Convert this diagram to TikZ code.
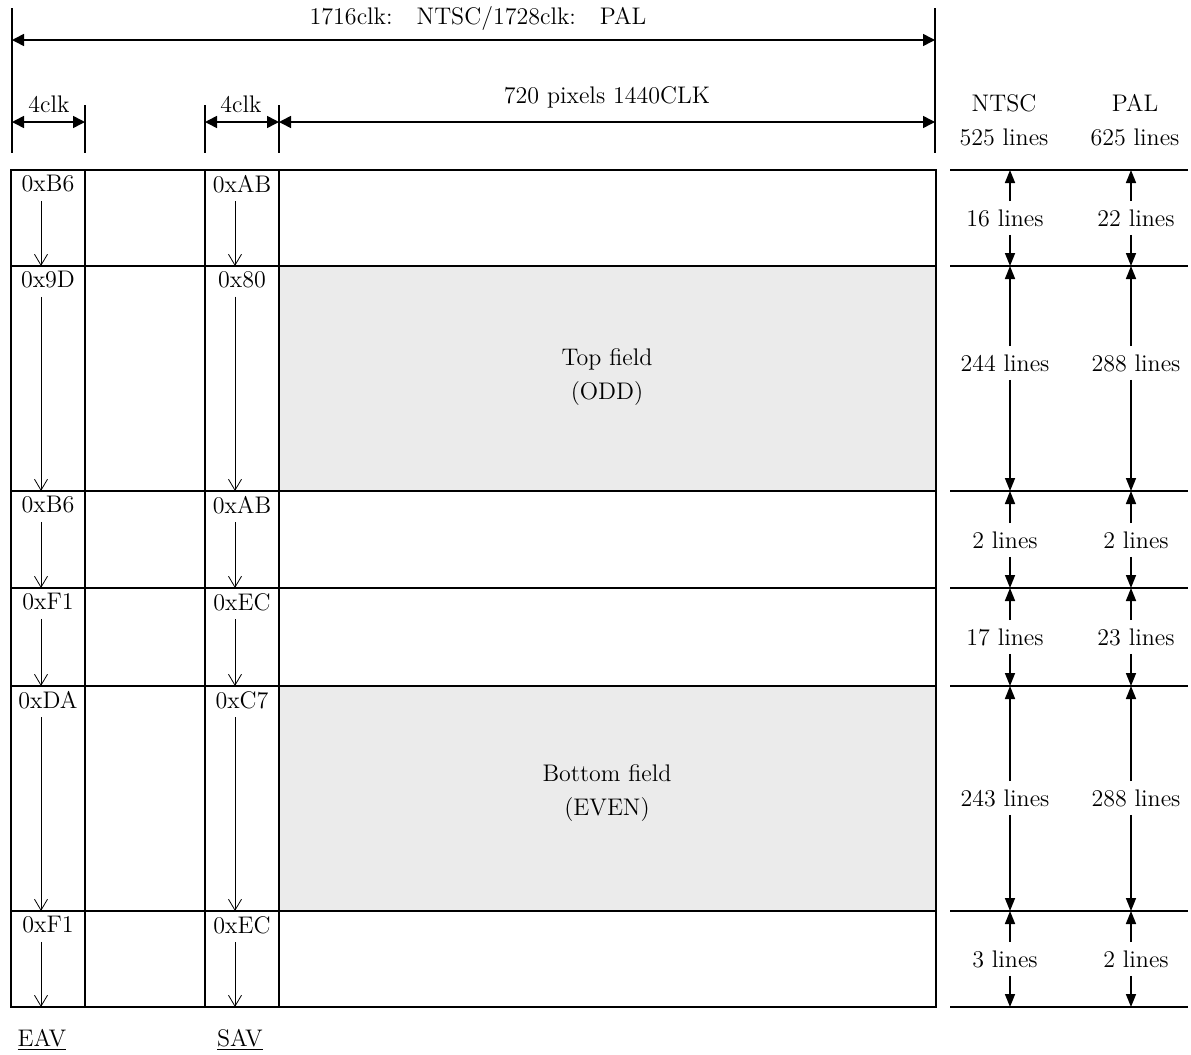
\documentclass[tikz,border=0pt]{standalone}
\usepackage{tikz}
\usetikzlibrary{arrows.meta}

\begin{document}
\begin{tikzpicture}[
    x=0.5pt, y=-0.5pt,
    font=\fontsize{12}{17}\selectfont,
    rule/.style={line width=1pt},
    tick/.style={line width=0.9pt},
    span/.style={{Triangle[length=6pt,width=6pt]}-{Triangle[length=6pt,width=6pt]}, line width=0.8pt},
    dim/.style={-{Triangle[length=6.5pt,width=5pt]}, line width=0.8pt},
    flow/.style={-{Straight Barb[length=5.5pt,width=6.5pt]}, line width=0.4pt},
    field/.style={fill=black!8},
    code/.style={inner sep=4pt},
    lbl/.style={inner sep=4pt, align=center}
]
  \useasboundingbox (0,0) rectangle (1191,1055);

  % clock spans on top
  \draw[tick] (12,8) -- (12,153);
  \draw[tick] (935,8) -- (935,153);
  \draw[tick] (85,105) -- (85,153);
  \draw[tick] (205,105) -- (205,153);
  \draw[tick] (279,105) -- (279,153);

  \coordinate (l0) at (12,40);
  \coordinate (r0) at (935,40);
  \coordinate (e0) at (12,122);
  \coordinate (e1) at (85,122);
  \coordinate (s0) at (205,122);
  \coordinate (s1) at (279,122);
  \coordinate (p1) at (935,122);

  \draw[span] (l0) -- (r0);
  \draw[span] (e0) -- (e1);
  \draw[span] (s0) -- (s1);
  \draw[span] (s1) -- (p1);

  \node[lbl] (total) at (478,18) {1716clk:\quad NTSC/1728clk:\quad PAL};
  \node[lbl] (eclk) at (49,104) {4clk};
  \node[lbl] (sclk) at (241,104) {4clk};
  \node[lbl] (pix) at (607,97) {720 pixels 1440CLK};

  \node[lbl] (ntsc) at (1004,120) {NTSC\\525 lines};
  \node[lbl] (pal) at (1135,120) {PAL\\625 lines};

  % fields
  \fill[field] (279,266) rectangle (936,491);
  \fill[field] (279,686) rectangle (936,911);
  \node[lbl] (top) at (607,377) {Top field\\(ODD)};
  \node[lbl] (bottom) at (607,793) {Bottom field\\(EVEN)};

  % table
  \draw[rule] (11,170) rectangle (936,1007);
  \foreach \y in {266,491,588,686,911}
    \draw[rule] (11,\y) -- (936,\y);
  \foreach \x in {85,205,279}
    \draw[rule] (\x,170) -- (\x,1007);
  \foreach \y in {170,266,491,588,686,911,1007}
    \draw[rule] (950,\y) -- (1188,\y);

  % codes per row
  \foreach \i/\top/\bot/\eav/\sav in {1/170/266/0xB6/0xAB, 2/266/491/0x9D/0x80,
      3/491/588/0xB6/0xAB, 4/588/686/0xF1/0xEC, 5/686/911/0xDA/0xC7, 6/911/1007/0xF1/0xEC} {
    \node[code] (ea\i) at (48,{\top+14}) {\eav};
    \node[code] (sa\i) at (242,{\top+14}) {\sav};
    \coordinate (eb\i) at (41,\bot);
    \coordinate (sb\i) at (235,\bot);
    \draw[flow] (ea\i.south -| eb\i) -- (eb\i);
    \draw[flow] (sa\i.south -| sb\i) -- (sb\i);
  }

  % line counts
  \foreach \i/\top/\bot/\my/\nt/\pl in {1/170/266/218/16/22, 2/266/491/363/244/288,
      3/491/588/540/2/2, 4/588/686/637/17/23, 5/686/911/798/243/288, 6/911/1007/959/3/2} {
    \node[lbl] (nl\i) at (1005,\my) {\nt{} lines};
    \node[lbl] (pl\i) at (1136,\my) {\pl{} lines};
    \coordinate (nt\i) at (1010,\top);
    \coordinate (nb\i) at (1010,\bot);
    \coordinate (pt\i) at (1131,\top);
    \coordinate (pb\i) at (1131,\bot);
    \draw[dim] (nl\i.north -| nt\i) -- (nt\i);
    \draw[dim] (nl\i.south -| nb\i) -- (nb\i);
    \draw[dim] (pl\i.north -| pt\i) -- (pt\i);
    \draw[dim] (pl\i.south -| pb\i) -- (pb\i);
  }

  \node[lbl] (eav) at (42,1040) {\underline{EAV}};
  \node[lbl] (sav) at (240,1040) {\underline{SAV}};
\end{tikzpicture}
\end{document}
